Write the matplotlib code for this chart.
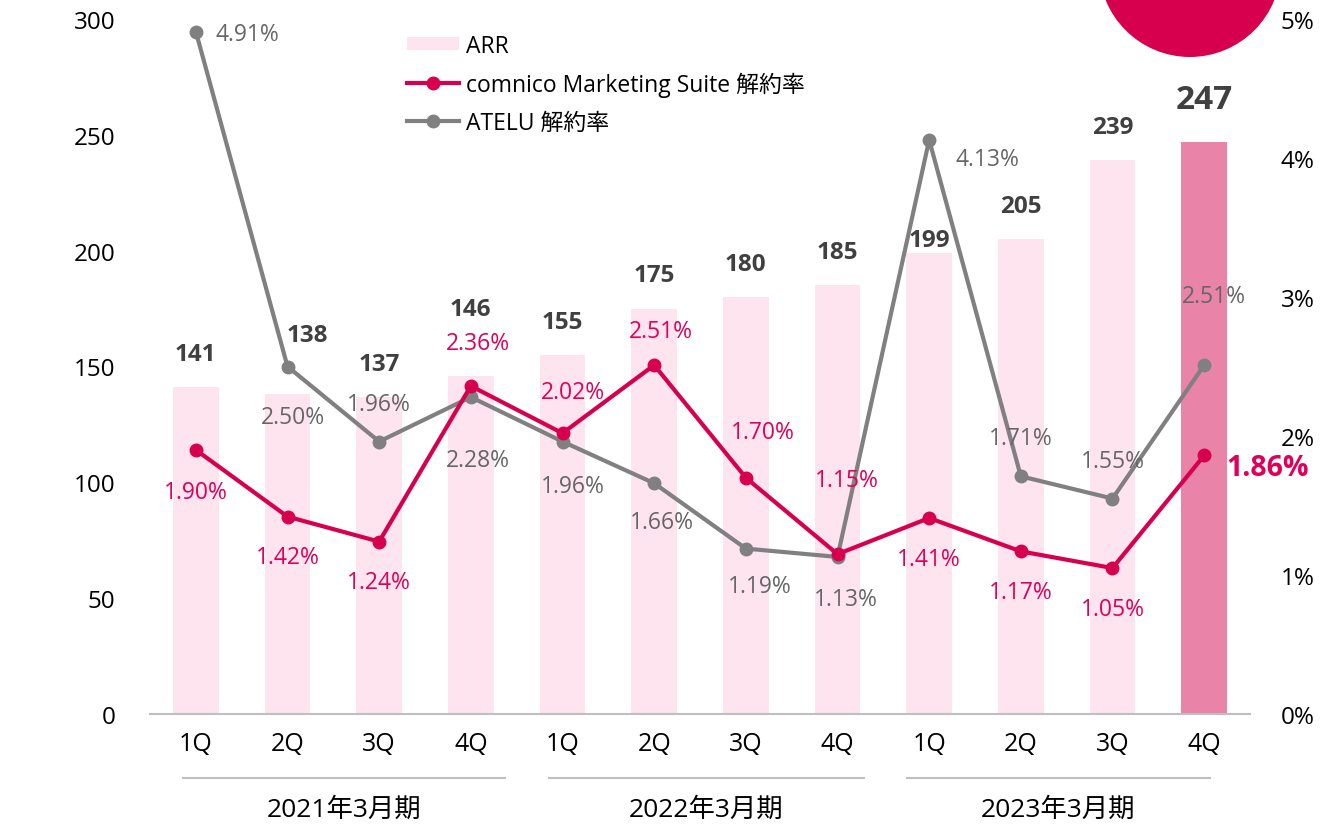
"""ARR and churn rate (解約率) by quarter, bar + dual line chart."""

import matplotlib

matplotlib.use("Agg")
import matplotlib.pyplot as plt
import matplotlib.transforms as mtransforms
from matplotlib.patches import Ellipse, Patch
from matplotlib.lines import Line2D

plt.rcParams["font.family"] = ["Open Sans", "Noto Sans CJK JP", "DejaVu Sans"]

# Data.
quarters = ["1Q", "2Q", "3Q", "4Q", "1Q", "2Q", "3Q", "4Q", "1Q", "2Q", "3Q", "4Q"]
fiscal_years = ["2021年3月期", "2022年3月期", "2023年3月期"]
arr = [141, 138, 137, 146, 155, 175, 180, 185, 199, 205, 239, 247]
comnico_churn = [1.90, 1.42, 1.24, 2.36, 2.02, 2.51, 1.70, 1.15, 1.41, 1.17, 1.05, 1.86]
atelu_churn = [4.91, 2.50, 1.96, 2.28, 1.96, 1.66, 1.19, 1.13, 4.13, 1.71, 1.55, 2.51]

# Label placement (pixel offsets from the point / bar top).
arr_offsets = [(0, 33), (20, 59), (0, 33), (0, 67), (0, 33), (0, 34),
               (0, 33), (0, 33), (0, 13), (0, 33), (0, 33), (0, 42)]
comnico_offsets = [(0, -42), (0, -40), (0, -40), (7, 43), (10, 41), (7, 34),
                   (17, 46), (9, 74), (0, -41), (0, -41), (0, -41), (63, -12)]
atelu_offsets = [(52, -2), (5, -51), (0, 38), (7, -63), (10, -44), (8, -39),
                 (14, -37), (8, -42), (58, -19), (0, 38), (0, 38), (10, 69)]
group_spans = [(-0.14, 3.37), (3.85, 7.29), (7.76, 11.06)]

PINK = "#D6004F"
PINK_TEXT = "#E0005A"
GRAY = "#808080"
GRAY_TEXT = "#666666"
BAR = "#FDE4EF"
BAR_LAST = "#E983A8"

fig = plt.figure(figsize=(13.42, 8.28), dpi=100)
ax = fig.add_axes([150 / 1342, 1 - 715 / 828, 1100 / 1342, 695 / 828])
ax2 = ax.twinx()

x = list(range(len(quarters)))
colors = [BAR] * (len(arr) - 1) + [BAR_LAST]
ax.bar(x, arr, width=0.5, color=colors, zorder=1)
ax.set_ylim(0, 300)
ax.set_xlim(-0.5, 11.5)
ax.set_yticks(range(0, 301, 50))
ax.set_xticks(x)
ax.set_xticklabels(quarters)
ax.tick_params(axis="y", length=0, pad=25, labelsize=17.5)
ax.tick_params(axis="x", length=0, pad=12, labelsize=18)

for spine in ["top", "left", "right"]:
    ax.spines[spine].set_visible(False)
    ax2.spines[spine].set_visible(False)
ax.spines["bottom"].set_color("#BFBFBF")
ax.spines["bottom"].set_linewidth(1.5)
ax2.spines["bottom"].set_visible(False)

# ARR value labels.
for i, v in enumerate(arr):
    last = i == len(arr) - 1
    ax.annotate(
        str(v),
        (i, v),
        xytext=arr_offsets[i],
        textcoords="offset pixels",
        ha="center",
        va="center",
        fontsize=24 if last else 17.5,
        fontweight="bold",
        color="#404040",
    )

# Churn lines on the right axis.
ax2.plot(x, atelu_churn, color=GRAY, linewidth=3, marker="o", markersize=9, zorder=3)
ax2.plot(x, comnico_churn, color=PINK, linewidth=3, marker="o", markersize=9, zorder=4)
ax2.set_ylim(0, 5)
ax2.set_yticks(range(0, 6))
ax2.set_yticklabels([f"{t}%" for t in range(0, 6)])
ax2.tick_params(axis="y", length=0, pad=22, labelsize=17.5)
ax.set_zorder(ax2.get_zorder() - 1)
ax2.patch.set_visible(False)

for i, v in enumerate(atelu_churn):
    ax2.annotate(
        f"{v:.2f}%",
        (i, v),
        xytext=atelu_offsets[i],
        textcoords="offset pixels",
        ha="center",
        va="center",
        fontsize=16.5,
        color=GRAY_TEXT,
        zorder=5,
    )

for i, v in enumerate(comnico_churn):
    last = i == len(comnico_churn) - 1
    ax2.annotate(
        f"{v:.2f}%",
        (i, v),
        xytext=comnico_offsets[i],
        textcoords="offset pixels",
        ha="center",
        va="center",
        fontsize=20.5 if last else 16.5,
        fontweight="bold" if last else "normal",
        color=PINK_TEXT,
        zorder=5,
    )

# Fiscal year group lines and labels under the quarters.
trans = mtransforms.blended_transform_factory(ax.transData, ax.transAxes)
for (x0, x1), label in zip(group_spans, fiscal_years):
    ax.plot([x0, x1], [-0.092, -0.092], color="#BFBFBF", linewidth=1.5,
            transform=trans, clip_on=False)
    ax.text((x0 + x1) / 2, -0.137, label, transform=trans, ha="center",
            va="center", fontsize=19)

# Legend.
handles = [
    Patch(facecolor=BAR, edgecolor="none"),
    Line2D([], [], color=PINK, linewidth=3, marker="o", markersize=9),
    Line2D([], [], color=GRAY, linewidth=3, marker="o", markersize=9),
]
labels = ["ARR", "comnico Marketing Suite 解約率", "ATELU 解約率"]
fig.legend(
    handles,
    labels,
    loc="upper left",
    bbox_to_anchor=(386 / 1342, 1 - 14 / 828),
    frameon=False,
    fontsize=16.5,
    handlelength=2.3,
    handleheight=0.5,
    handletextpad=0.3,
    labelspacing=0.6,
)

# Decorative circle clipped at the top right.
fig.patches.append(
    Ellipse((1190 / 1342, 1 + 33 / 828), 182 / 1342, 182 / 828,
            transform=fig.transFigure, facecolor="#D7004F", edgecolor="none")
)

fig.savefig("out.png", dpi=100)
